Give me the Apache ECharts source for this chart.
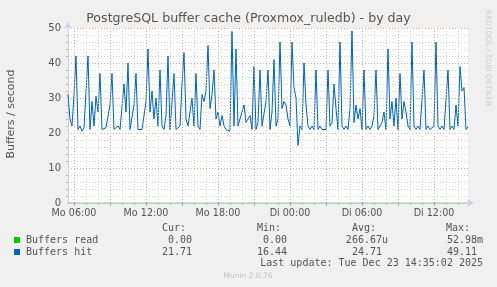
<!DOCTYPE html>
<html>
<head>
<meta charset="utf-8">
<script src="https://cdn.jsdelivr.net/npm/echarts@6/dist/echarts.min.js"></script>
<style>
html,body{margin:0;padding:0;background:#f0f0f0;}
#chart{width:497px;height:287px;}
</style>
</head>
<body>
<div id="chart"></div>
<script>
// Sample start: Monday 05:30, one sample every 10 minutes
const startMinutes = 5 * 60 + 30;
const stepMinutes = 10;
const tickLabels = ['Mo 06:00', 'Mo 12:00', 'Mo 18:00', 'Di 00:00', 'Di 06:00', 'Di 12:00'];

const hitValues = [
  31, 24, 22, 31, 42, 21, 22, 20.5, 21.5, 21,
  42, 21, 29, 22, 30.5, 26, 37, 21, 21, 21.5,
  21, 28, 37, 21, 21, 22, 21, 21, 34, 26,
  40, 21, 21, 28, 37, 21, 21.5, 21, 21, 29,
  44, 26, 32, 24, 30, 22, 38, 22, 21, 25,
  42, 21, 21, 37, 21, 21, 22, 34, 43, 24,
  22, 26, 30, 22, 37, 22, 21, 31, 29, 32,
  45, 27, 31, 38, 24, 26, 22, 25, 22, 21,
  21, 20.5, 49, 22, 44, 22, 24, 26, 28, 23,
  24, 25, 21, 39, 21, 23, 38, 22, 22, 29,
  38, 21, 26, 41, 22, 24, 46, 27, 29, 28,
  24, 22, 46, 33, 30, 16.44, 22, 21, 40, 28,
  22, 21, 22, 21, 38, 21, 22, 21, 21.5, 21,
  38, 22, 23, 34, 27, 21, 46, 22, 21, 22,
  21, 27, 49.11, 23, 28, 24, 27, 21, 38, 21,
  22, 21, 22, 25, 38, 21, 22, 23, 26, 21,
  44, 24, 29, 22, 30, 21, 37, 24, 29, 26,
  22, 21, 46, 22, 21, 22, 21, 21.5, 38, 21,
  22, 21, 21, 22, 46, 22, 21, 22, 21, 21,
  38, 21, 22, 21, 28, 22, 39, 32, 33, 21,
  21.71
];

const readValues = [
  0,0,0,0,0,0,0,0,0,0, 0,0,0,0,0,0,0,0,0,0,
  0,0,0,0,0,0,0,0,0,0, 0,0,0,0,0,0,0,0,0,0,
  0,0,0,0,0,0,0,0,0,0, 0,0,0,0,0,0,0,0,0,0,
  0,0,0,0,0,0,0,0,0,0, 0,0,0,0,0,0,0,0,0,0,
  0,0,0,0,0,0,0,0,0,0, 0,0,0,0,0,0,0,0,0,0,
  0,0,0,0,0,0,0,0,0,0, 0,0,0,0,0,0.05298,0,0,0,0,
  0,0,0,0,0,0,0,0,0,0, 0,0,0,0,0,0,0,0,0,0,
  0,0,0,0,0,0,0,0,0,0, 0,0,0,0,0,0,0,0,0,0,
  0,0,0,0,0,0,0,0,0,0, 0,0,0,0,0,0,0,0,0,0,
  0,0,0,0,0,0,0,0,0,0, 0,0,0,0,0,0,0,0,0,0,
  0
];

const seriesNames = ['Buffers read', 'Buffers hit'];
const seriesColors = ['#00cc00', '#0066b3'];
const statHeaders = ['Cur:', 'Min:', 'Avg:', 'Max:'];
const statsRead = ['0.00', '0.00', '266.67u', '52.98m'];
const statsHit = ['21.71', '16.44', '24.71', '49.11'];
const lastUpdate = 'Last update: Tue Dec 23 14:35:02 2025';
const chartTitle = 'PostgreSQL buffer cache (Proxmox_ruledb) - by day';
const yAxisTitle = 'Buffers / second';

// category labels (time of each sample)
const dayNames = ['Mo', 'Di'];
const categories = hitValues.map((_, i) => {
  const m = startMinutes + i * stepMinutes;
  const d = Math.floor(m / 1440);
  const mm = m % 1440;
  const hh = String(Math.floor(mm / 60)).padStart(2, '0');
  const mi = String(mm % 60).padStart(2, '0');
  return dayNames[d] + ' ' + hh + ':' + mi;
});
const minutesOf = label => {
  const t = label.split(' ')[1].split(':');
  return (+t[0]) * 60 + (+t[1]);
};
const isMultiple = (label, minutes) => minutesOf(label) % minutes === 0;

const chart = echarts.init(document.getElementById('chart'), null, {renderer: 'canvas'});
const axisBlue = '#c8cff0';
const textCol = '#555';
const mono = '"DejaVu Sans Mono", monospace';

// vertical grid lines (hourly grey, 3-hourly red)
const gridMarks = categories.filter(c => isMultiple(c, 60)).map(c => ({
  xAxis: c,
  lineStyle: isMultiple(c, 180)
    ? {color: '#eaa0a0', type: [1, 2], width: 1}
    : {color: '#d4d4d4', type: [1, 2], width: 1}
}));

const graphics = [
  {type: 'text', left: 'center', top: 12, style: {text: chartTitle, font: '12.6px "DejaVu Sans"', fill: textCol}},
  {type: 'text', x: 11, y: 114, rotation: Math.PI / 2,
    style: {text: yAxisTitle, font: '11px "DejaVu Sans"', fill: textCol, textAlign: 'center', textVerticalAlign: 'middle'}},
  {type: 'text', x: 488, y: 58, rotation: -Math.PI / 2,
    style: {text: 'RRDTOOL / TOBI OETIKER', font: '7.5px "DejaVu Sans"', fill: '#cccccc', textAlign: 'center', textVerticalAlign: 'middle'}},
  {type: 'rect', shape: {x: 14, y: 237, width: 6, height: 6}, style: {fill: seriesColors[0]}},
  {type: 'rect', shape: {x: 14, y: 249, width: 6, height: 6}, style: {fill: seriesColors[1]}},
  {type: 'text', x: 26, y: 240, style: {text: seriesNames[0], font: '10px ' + mono, fill: textCol, textVerticalAlign: 'middle'}},
  {type: 'text', x: 26, y: 252, style: {text: seriesNames[1], font: '10px ' + mono, fill: textCol, textVerticalAlign: 'middle'}},
  {type: 'text', x: 483, y: 263, style: {text: lastUpdate, font: '10px ' + mono, fill: textCol, textAlign: 'right', textVerticalAlign: 'middle'}},
  {type: 'text', x: 248, y: 276, style: {text: 'Munin 2.0.76', font: '7.5px "DejaVu Sans"', fill: '#c0c0c0', textAlign: 'center', textVerticalAlign: 'middle'}}
];
const headerRight = [186, 281, 376, 470];
const readRight = [192, 287, 388, 483];
const hitRight = [192, 287, 382, 477];
statHeaders.forEach((h, k) => {
  graphics.push({type: 'text', x: headerRight[k], y: 228, style: {text: h, font: '10px ' + mono, fill: textCol, textAlign: 'right', textVerticalAlign: 'middle'}});
  graphics.push({type: 'text', x: readRight[k], y: 240, style: {text: statsRead[k], font: '10px ' + mono, fill: textCol, textAlign: 'right', textVerticalAlign: 'middle'}});
  graphics.push({type: 'text', x: hitRight[k], y: 252, style: {text: statsHit[k], font: '10px ' + mono, fill: textCol, textAlign: 'right', textVerticalAlign: 'middle'}});
});

chart.setOption({
  animation: false,
  backgroundColor: '#f0f0f0',
  grid: {left: 68, right: 29, top: 28, bottom: 84, show: true, backgroundColor: '#ffffff', borderWidth: 0},
  xAxis: [
    {
      type: 'category', data: categories, boundaryGap: false, position: 'bottom',
      axisLine: {show: true, lineStyle: {color: axisBlue, width: 1}, symbol: ['none', 'arrow'], symbolSize: [6, 7], symbolOffset: [0, 6]},
      axisTick: {show: true, length: 2, interval: (i, v) => isMultiple(v, 60), lineStyle: {color: '#bbbbbb'}},
      axisLabel: {
        show: true, margin: 5, color: textCol, fontSize: 9.6, fontFamily: 'DejaVu Sans',
        interval: (i, v) => tickLabels.indexOf(v) >= 0
      },
      splitLine: {show: false}
    },
    {
      type: 'category', data: categories, boundaryGap: false, position: 'bottom',
      axisLine: {show: false},
      axisTick: {show: true, length: 3, interval: (i, v) => isMultiple(v, 180), lineStyle: {color: '#e89090'}},
      axisLabel: {show: false},
      splitLine: {show: false}
    }
  ],
  yAxis: {
    type: 'value', min: 0, max: 50, interval: 10,
    axisLine: {show: true, lineStyle: {color: axisBlue}, symbol: ['none', 'arrow'], symbolSize: [6, 7], symbolOffset: [0, 6]},
    axisTick: {show: false},
    minorTick: {show: true, splitNumber: 5, length: 2, lineStyle: {color: '#bbbbbb'}},
    axisLabel: {color: textCol, fontSize: 10, fontFamily: 'DejaVu Sans', margin: 7},
    splitLine: {show: true, lineStyle: {color: '#eaa0a0', type: [1, 2], width: 1}},
    minorSplitLine: {show: true, lineStyle: {color: '#d4d4d4', type: [1, 2], width: 1}}
  },
  series: [
    {name: seriesNames[0], type: 'line', data: readValues, showSymbol: false, symbol: 'none',
      lineStyle: {color: '#7fd07f', width: 1}, itemStyle: {color: seriesColors[0]}, z: 2,
      markLine: {silent: true, symbol: 'none', label: {show: false}, animation: false, data: gridMarks}},
    {name: seriesNames[1], type: 'line', data: hitValues, showSymbol: false, symbol: 'none',
      lineStyle: {color: seriesColors[1], width: 1}, itemStyle: {color: seriesColors[1]}, z: 3}
  ],
  graphic: graphics
});
</script>
</body>
</html>
